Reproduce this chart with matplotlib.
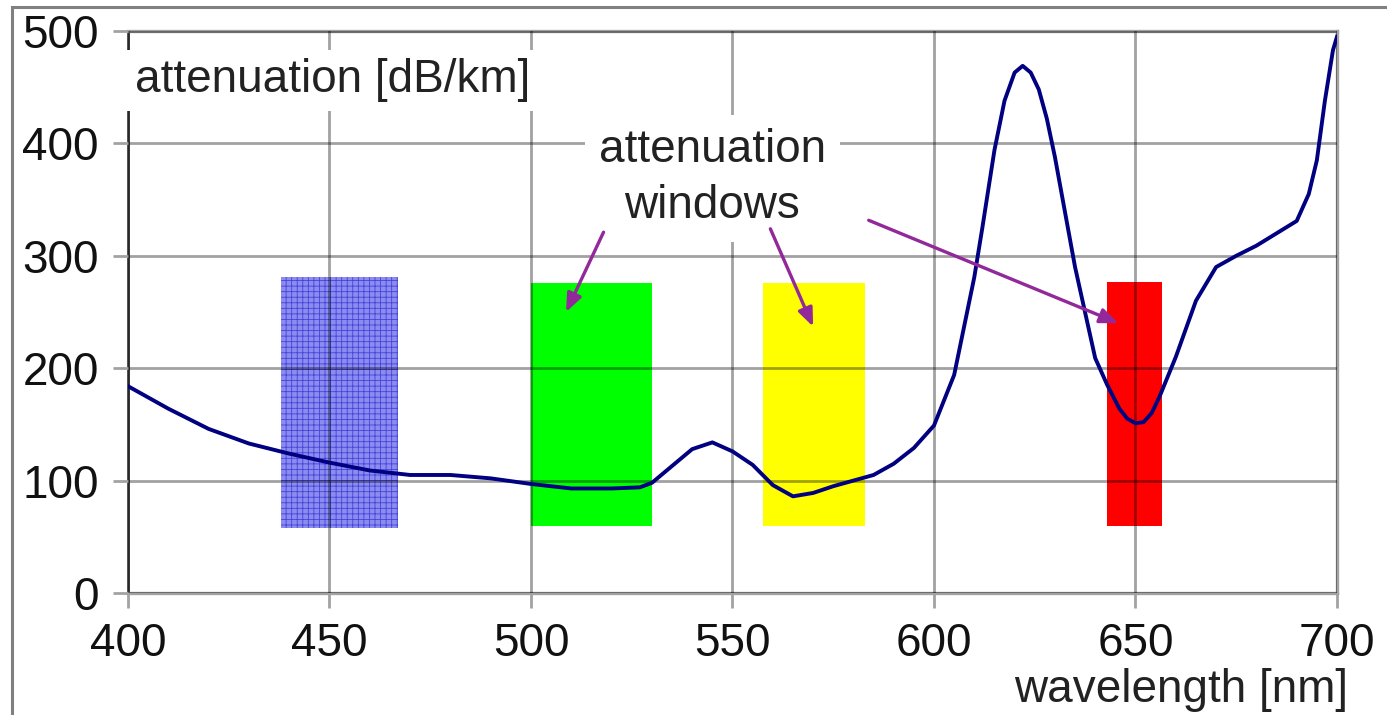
import numpy as np
import matplotlib
matplotlib.use('Agg')
import matplotlib.pyplot as plt
from matplotlib.patches import Rectangle

plt.rcParams['font.family'] = ['Liberation Sans', 'DejaVu Sans']
plt.rcParams['hatch.linewidth'] = 0.6

# attenuation curve
wavelength = [400, 410, 420, 430, 440, 450, 460, 470, 480, 490, 500, 510, 520, 527,
              530, 535, 540, 545, 550, 555, 560, 565, 570, 575, 580, 585, 590, 595, 600,
              605, 610, 612, 615, 617.5, 620, 622, 624, 626, 628, 630, 635, 640, 643,
              646, 648, 650, 652, 654, 656, 660, 665, 670, 675, 680, 685, 690, 693, 695,
              697, 699, 700]
attenuation = [184, 164, 146, 133, 124, 116, 109, 105, 105, 102, 97, 93, 93, 94,
               98, 113, 128, 134, 126, 114, 96, 86, 89, 95, 100, 105, 115, 129, 149,
               194, 281, 325, 394, 438, 463, 469, 463, 448, 422, 388, 290, 209, 185,
               164, 155, 151, 152, 160, 175, 210, 260, 290, 300, 309, 320, 331, 355, 385,
               438, 483, 495]

# attenuation windows (nm from, nm to, bottom, top, colour)
win_lo = [438, 500, 557.5, 643]
win_hi = [467, 530, 583, 656.5]
win_bottom = [58, 60, 60, 60]
win_top = [281, 276, 276, 277]
win_color = ['#8c8cf0', '#00ff00', '#ffff00', '#ff0000']

# arrows: tail (x, y) -> head (x, y)
arrow_tail = [(518, 321), (559.4, 324), (583.8, 331.6)]
arrow_head = [(508.7, 250), (570, 237), (645.8, 240)]

xticks = [400, 450, 500, 550, 600, 650, 700]
yticks = [0, 100, 200, 300, 400, 500]

fig = plt.figure(figsize=(13.87, 7.15), dpi=100)
ax = fig.add_axes([128 / 1387, 1 - 593 / 715, (1337 - 128) / 1387, (593 - 31) / 715])

# outer frame of the picture
fig.patches.append(Rectangle((12 / 1387, -0.5), 2, 1.5 - 7 / 715, transform=fig.transFigure,
                             fill=False, edgecolor='#808080', linewidth=2.2))

gray = '#a2a2a2'

for lo, hi, b, t, c in zip(win_lo, win_hi, win_bottom, win_top, win_color):
    if c == '#8c8cf0':
        r = Rectangle((lo, b), hi - lo, t - b, facecolor=c, edgecolor='#4444d8',
                      hatch='+++', linewidth=0, zorder=1)
    else:
        r = Rectangle((lo, b), hi - lo, t - b, facecolor=c, edgecolor='none', zorder=1)
    ax.add_patch(r)

ax.plot(wavelength, attenuation, color='#000080', lw=2.8, zorder=3)

for (tx, ty), (hx, hy) in zip(arrow_tail, arrow_head):
    ax.annotate('', xy=(hx, hy), xytext=(tx, ty),
                arrowprops=dict(arrowstyle='-|>,head_length=1.1,head_width=0.45',
                                color='#92289a', lw=2.4, shrinkA=0, shrinkB=0),
                zorder=5)

ax.set_xlim(400, 700)
ax.set_ylim(0, 500)
ax.set_xticks(xticks)
ax.set_yticks(yticks)
ax.set_axisbelow(False)
ax.grid(True, color='black', alpha=0.37, lw=2.0)
for g in ax.get_xgridlines() + ax.get_ygridlines():
    g.set_zorder(2)

ax.tick_params(axis='both', labelsize=33, color=gray, width=2.0, length=11,
               labelcolor='#111111')
ax.tick_params(axis='x', pad=10)
ax.tick_params(axis='y', pad=10)
for side in ['top', 'right', 'bottom']:
    ax.spines[side].set_color(gray)
    ax.spines[side].set_linewidth(2.4)
ax.spines['left'].set_color('#404040')
ax.spines['left'].set_linewidth(2.0)

ax.text(401.7, 456, 'attenuation [dB/km]', fontsize=33, color='#222222',
        ha='left', va='center', zorder=4,
        bbox=dict(facecolor='white', edgecolor='none', pad=6))
ax.text(545, 369, 'attenuation\nwindows', fontsize=33, color='#222222',
        ha='center', va='center', linespacing=1.35, zorder=4,
        bbox=dict(facecolor='white', edgecolor='none', pad=10))
ax.text(1.0095, -0.172, 'wavelength [nm]', fontsize=33, color='#222222',
        ha='right', va='center', transform=ax.transAxes)

fig.savefig('out.png', dpi=100)
